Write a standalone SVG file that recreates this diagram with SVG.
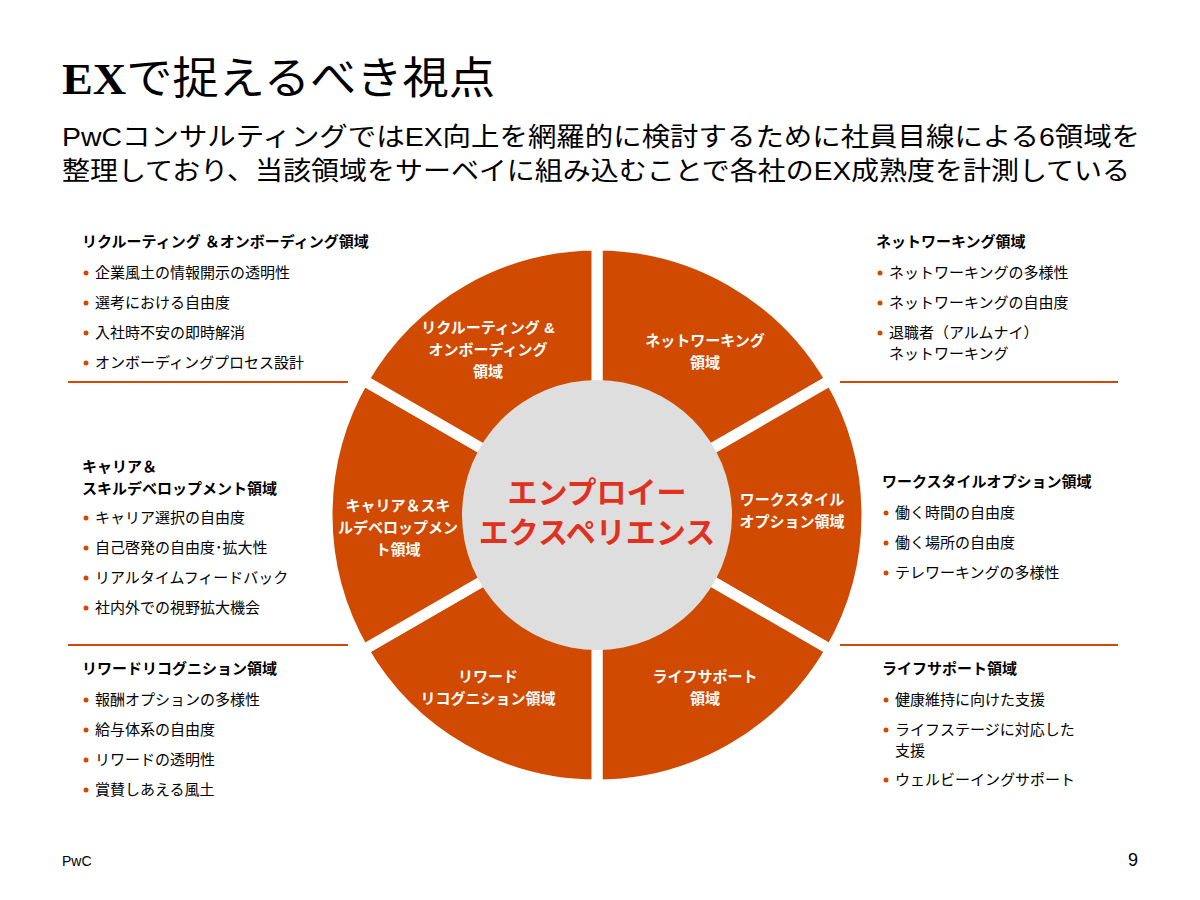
<svg xmlns="http://www.w3.org/2000/svg" width="1200" height="900" viewBox="0 0 1200 900">
<style>
text{font-family:"Liberation Sans","Noto Sans CJK JP",sans-serif;fill:#000}
.wd{fill:#d04a02;stroke:#fff;stroke-width:11}
.wl{fill:#fff;font-size:15px;font-weight:bold;text-anchor:middle}
.h{font-size:15px;font-weight:bold}
.b{font-size:15px}
.d{fill:#d04a02}
.sep{stroke:#d04a02;stroke-width:2}
</style>
<rect width="1200" height="900" fill="#fff"/>
<text x="62" y="94" font-size="44" textLength="433" lengthAdjust="spacingAndGlyphs"><tspan font-family="Liberation Serif" font-weight="bold">EX</tspan>で捉えるべき視点</text>
<text x="62" y="146" font-size="26" textLength="1078" lengthAdjust="spacingAndGlyphs">PwCコンサルティングではEX向上を網羅的に検討するために社員目線による6領域を</text>
<text x="62" y="180" font-size="26" textLength="1068" lengthAdjust="spacingAndGlyphs">整理しており、当該領域をサーベイに組み込むことで各社のEX成熟度を計測している</text>
<g id="connectors">
<line class="sep" x1="68" y1="382" x2="348" y2="382"/>
<line class="sep" x1="68" y1="645" x2="348" y2="645"/>
<line class="sep" x1="840" y1="382" x2="1118" y2="382"/>
<line class="sep" x1="840" y1="645" x2="1118" y2="645"/>
</g>
<g id="wheel">
<path class="wd" d="M597 515 L597 245 A270 270 0 0 1 830.8 380 Z"/>
<path class="wd" d="M597 515 L830.8 380 A270 270 0 0 1 830.8 650 Z"/>
<path class="wd" d="M597 515 L830.8 650 A270 270 0 0 1 597 785 Z"/>
<path class="wd" d="M597 515 L597 785 A270 270 0 0 1 363.2 650 Z"/>
<path class="wd" d="M597 515 L363.2 650 A270 270 0 0 1 363.2 380 Z"/>
<path class="wd" d="M597 515 L363.2 380 A270 270 0 0 1 597 245 Z"/>
<circle cx="597" cy="515" r="135" fill="#dedede"/>
<text x="597" y="503" font-size="30" font-weight="bold" text-anchor="middle" style="fill:#e0301e">エンプロイー</text>
<text x="597" y="543" font-size="30" font-weight="bold" text-anchor="middle" style="fill:#e0301e">エクスペリエンス</text>
</g>
<g id="seg-recruit"><text class="wl" x="488" y="333">リクルーティング &amp;</text><text class="wl" x="488" y="355">オンボーディング</text><text class="wl" x="488" y="377">領域</text></g>
<g id="seg-network"><text class="wl" x="705" y="346">ネットワーキング</text><text class="wl" x="705" y="368">領域</text></g>
<g id="seg-work"><text class="wl" x="792" y="505">ワークスタイル</text><text class="wl" x="792" y="527">オプション領域</text></g>
<g id="seg-life"><text class="wl" x="705" y="682">ライフサポート</text><text class="wl" x="705" y="704">領域</text></g>
<g id="seg-reward"><text class="wl" x="488" y="682">リワード</text><text class="wl" x="488" y="704">リコグニション領域</text></g>
<g id="seg-career"><text class="wl" x="398" y="511">キャリア＆スキ</text><text class="wl" x="398" y="533">ルデベロップメン</text><text class="wl" x="398" y="555">ト領域</text></g>
<g id="list-recruit">
<text class="h" x="82" y="247">リクルーティング ＆オンボーディング領域</text>
<circle class="d" cx="86" cy="273" r="2.5"/><text class="b" x="95" y="278">企業風土の情報開示の透明性</text>
<circle class="d" cx="86" cy="303" r="2.5"/><text class="b" x="95" y="308">選考における自由度</text>
<circle class="d" cx="86" cy="333" r="2.5"/><text class="b" x="95" y="338">入社時不安の即時解消</text>
<circle class="d" cx="86" cy="363" r="2.5"/><text class="b" x="95" y="368">オンボーディングプロセス設計</text>
</g>
<g id="list-career">
<text class="h" x="82" y="472">キャリア＆</text>
<text class="h" x="82" y="494">スキルデベロップメント領域</text>
<circle class="d" cx="86" cy="518" r="2.5"/><text class="b" x="95" y="523">キャリア選択の自由度</text>
<circle class="d" cx="86" cy="548" r="2.5"/><text class="b" x="95" y="553">自己啓発の自由度･拡大性</text>
<circle class="d" cx="86" cy="578" r="2.5"/><text class="b" x="95" y="583">リアルタイムフィードバック</text>
<circle class="d" cx="86" cy="608" r="2.5"/><text class="b" x="95" y="613">社内外での視野拡大機会</text>
</g>
<g id="list-reward">
<text class="h" x="82" y="674">リワードリコグニション領域</text>
<circle class="d" cx="86" cy="700" r="2.5"/><text class="b" x="95" y="705">報酬オプションの多様性</text>
<circle class="d" cx="86" cy="730" r="2.5"/><text class="b" x="95" y="735">給与体系の自由度</text>
<circle class="d" cx="86" cy="760" r="2.5"/><text class="b" x="95" y="765">リワードの透明性</text>
<circle class="d" cx="86" cy="790" r="2.5"/><text class="b" x="95" y="795">賞賛しあえる風土</text>
</g>
<g id="list-network">
<text class="h" x="876" y="247">ネットワーキング領域</text>
<circle class="d" cx="880" cy="273" r="2.5"/><text class="b" x="889" y="278">ネットワーキングの多様性</text>
<circle class="d" cx="880" cy="303" r="2.5"/><text class="b" x="889" y="308">ネットワーキングの自由度</text>
<circle class="d" cx="880" cy="333" r="2.5"/><text class="b" x="889" y="338">退職者（アルムナイ）</text>
<text class="b" x="889" y="359">ネットワーキング</text>
</g>
<g id="list-work">
<text class="h" x="882" y="487">ワークスタイルオプション領域</text>
<circle class="d" cx="886" cy="513" r="2.5"/><text class="b" x="895" y="518">働く時間の自由度</text>
<circle class="d" cx="886" cy="543" r="2.5"/><text class="b" x="895" y="548">働く場所の自由度</text>
<circle class="d" cx="886" cy="573" r="2.5"/><text class="b" x="895" y="578">テレワーキングの多様性</text>
</g>
<g id="list-life">
<text class="h" x="882" y="674">ライフサポート領域</text>
<circle class="d" cx="886" cy="700" r="2.5"/><text class="b" x="895" y="705">健康維持に向けた支援</text>
<circle class="d" cx="886" cy="730" r="2.5"/><text class="b" x="895" y="735">ライフステージに対応した</text>
<text class="b" x="895" y="756">支援</text>
<circle class="d" cx="886" cy="780" r="2.5"/><text class="b" x="895" y="785">ウェルビーイングサポート</text>
</g>
<text x="62" y="866" font-size="14">PwC</text>
<text x="1128" y="866" font-size="18">9</text>
</svg>
